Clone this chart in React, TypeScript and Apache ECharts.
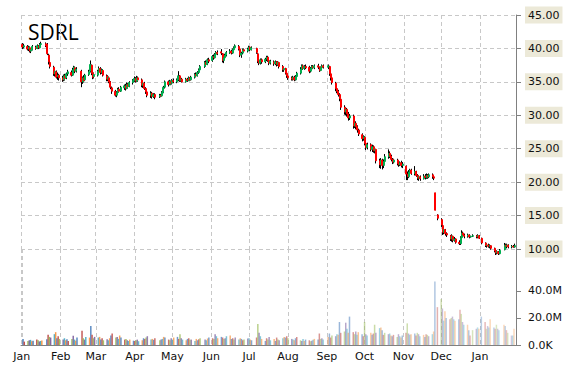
import React, { useEffect, useRef } from 'react';
import * as echarts from 'echarts';

const tickerName = 'SDRL';
const monthNames = ['Jan', 'Feb', 'Mar', 'Apr', 'May', 'Jun', 'Jul', 'Aug', 'Sep', 'Oct', 'Nov', 'Dec'];
const marketHolidays = ['2014-01-01', '2014-01-20', '2014-02-17', '2014-04-18', '2014-05-26', '2014-07-04', '2014-09-01', '2014-11-27', '2014-12-25', '2015-01-01', '2015-01-19'];
const firstDay = [2014, 0, 2];
const lastDay = [2015, 0, 28];
const priceTicks = { min: 10, max: 45, interval: 5 };
const volumeTicks = [0, 20, 40];
const volumeColors = ['#4F81BD', '#C0504D', '#9BBB59', '#8064A2', '#4BACC6', '#F79646'];

// [open, close, low, high]
const ohlcJan14 = [
  [40.6, 40.2, 39.9, 40.8], [40.2, 40.4, 40.0, 40.7], [40.3, 39.9, 39.7, 40.5], [39.9, 40.2, 39.6, 40.4], [40.1, 39.6, 39.4, 40.3],
  [39.6, 39.8, 39.3, 40.0], [39.8, 40.3, 39.7, 40.5], [40.2, 40.0, 39.8, 40.4], [40.0, 40.4, 39.9, 40.6], [40.4, 40.1, 39.9, 40.5],
  [40.1, 40.6, 40.0, 40.8], [40.6, 40.7, 40.3, 41.0], [40.7, 40.4, 40.2, 40.9], [40.6, 39.2, 39.0, 40.8], [39.0, 38.0, 37.6, 39.2],
  [37.9, 37.3, 37.0, 38.2], [37.2, 36.2, 35.9, 37.4], [36.2, 36.6, 35.8, 36.9], [36.5, 35.7, 35.5, 36.7], [35.8, 36.0, 35.3, 36.4],
  [36.0, 35.6, 35.2, 36.2],
];
const ohlcFeb14 = [
  [35.6, 35.3, 35.0, 35.9], [35.3, 35.9, 35.1, 36.1], [35.9, 35.5, 35.2, 36.2], [35.6, 36.2, 35.4, 36.4], [36.2, 36.5, 35.9, 36.8],
  [36.4, 36.0, 35.8, 36.7], [36.0, 36.8, 35.9, 37.1], [36.8, 37.2, 36.5, 37.4], [37.1, 36.6, 36.3, 37.3], [36.6, 36.9, 36.4, 37.2],
  [36.6, 35.0, 34.2, 36.8], [35.0, 35.6, 34.7, 35.8], [35.6, 35.2, 34.9, 36.0], [35.3, 36.0, 35.1, 36.2], [36.1, 36.5, 35.9, 36.8],
  [36.6, 37.6, 36.4, 38.2], [37.5, 36.3, 36.0, 37.6], [36.3, 35.7, 35.4, 36.5], [35.8, 36.1, 35.5, 36.4],
];
const ohlcMar14 = [
  [36.0, 36.6, 35.8, 36.8], [36.7, 37.0, 36.3, 37.3], [37.0, 36.4, 36.1, 37.2], [36.4, 36.8, 36.2, 37.0], [36.7, 36.0, 35.8, 36.9],
  [35.9, 35.4, 35.1, 36.1], [35.4, 35.7, 35.1, 36.0], [35.6, 35.0, 34.8, 35.8], [35.0, 34.2, 33.9, 35.1], [34.1, 33.6, 33.2, 34.3],
  [33.6, 33.0, 32.8, 33.8], [33.0, 33.4, 32.7, 33.6], [33.4, 33.9, 33.2, 34.1], [33.9, 33.6, 33.4, 34.2], [33.6, 34.2, 33.5, 34.4],
  [34.1, 34.4, 33.8, 34.6], [34.4, 34.0, 33.7, 34.7], [34.0, 34.6, 33.9, 34.9], [34.6, 34.3, 34.0, 34.8], [34.3, 34.9, 34.2, 35.1],
  [34.9, 35.2, 34.6, 35.4],
];
const ohlcApr14 = [
  [35.2, 35.5, 35.0, 35.8], [35.5, 35.1, 34.9, 35.7], [35.1, 35.6, 35.0, 35.9], [35.6, 35.3, 35.0, 35.8], [35.3, 34.5, 34.2, 35.5],
  [34.5, 34.8, 34.1, 35.0], [34.8, 34.0, 33.8, 35.0], [34.0, 33.5, 33.2, 34.2], [33.5, 33.0, 32.7, 33.7], [33.0, 33.3, 32.6, 33.6],
  [33.3, 32.8, 32.5, 33.5], [32.8, 33.1, 32.6, 33.3], [33.1, 32.7, 32.4, 33.3], [32.8, 33.0, 32.6, 33.2], [33.0, 32.9, 32.7, 33.2],
  [32.9, 33.4, 32.8, 33.6], [33.4, 34.2, 33.3, 34.4], [34.2, 35.0, 34.0, 35.2], [35.0, 34.6, 34.3, 35.2], [34.6, 35.1, 34.5, 35.3],
  [35.0, 34.8, 34.5, 35.2],
];
const ohlcMay14 = [
  [34.8, 35.2, 34.6, 35.4], [35.2, 35.0, 34.8, 35.5], [35.0, 35.3, 34.8, 35.5], [35.3, 35.9, 35.1, 36.6], [35.9, 35.2, 35.0, 36.0],
  [35.2, 35.4, 35.0, 35.6], [35.4, 35.0, 34.9, 35.6], [35.0, 35.4, 34.9, 35.6], [35.4, 35.2, 35.0, 35.6], [35.2, 35.6, 35.1, 35.8],
  [35.6, 35.3, 35.1, 35.7], [35.3, 35.7, 35.2, 35.9], [35.7, 36.1, 35.5, 36.3], [36.1, 35.9, 35.7, 36.4], [35.9, 36.4, 35.8, 36.6],
  [36.4, 36.8, 36.2, 37.0], [36.8, 37.3, 36.6, 37.5], [37.3, 37.9, 37.1, 38.1], [37.9, 37.6, 37.3, 38.2], [37.6, 38.3, 37.5, 38.5],
  [38.3, 38.1, 37.8, 38.6],
];
const ohlcJun14 = [
  [38.2, 38.8, 38.0, 39.0], [38.8, 38.6, 38.3, 39.1], [38.6, 39.1, 38.5, 39.3], [39.1, 39.4, 38.9, 39.6], [39.4, 39.2, 39.0, 39.7],
  [39.5, 39.3, 39.0, 39.9], [39.2, 38.2, 37.9, 39.3], [38.2, 38.6, 37.8, 38.8], [38.6, 39.0, 38.4, 39.2], [39.0, 39.4, 38.8, 39.6],
  [39.4, 39.6, 39.2, 39.9], [39.6, 39.3, 39.1, 39.8], [39.3, 39.8, 39.2, 40.0], [39.8, 40.1, 39.6, 40.3], [40.1, 40.4, 39.9, 40.6],
  [40.3, 39.9, 39.7, 40.5], [39.9, 39.0, 38.7, 40.0], [39.0, 39.3, 38.6, 39.5], [39.3, 39.8, 39.1, 40.0], [39.8, 39.6, 39.4, 40.0],
  [39.6, 39.9, 39.4, 40.1],
];
const ohlcJul14 = [
  [39.9, 40.2, 39.7, 40.4], [40.2, 39.8, 39.6, 40.3], [39.8, 40.1, 39.7, 40.3], [40.0, 39.4, 39.2, 40.1], [39.2, 38.1, 37.8, 39.3],
  [38.1, 37.8, 37.5, 38.4], [37.8, 38.3, 37.6, 38.5], [38.3, 38.0, 37.7, 38.5], [38.0, 38.4, 37.8, 38.6], [38.4, 38.7, 38.1, 38.9],
  [38.7, 38.2, 38.0, 38.9], [38.2, 37.8, 37.5, 38.4], [37.8, 38.1, 37.6, 38.3], [38.0, 37.7, 37.4, 38.2], [37.7, 38.0, 37.5, 38.2],
  [38.0, 37.6, 37.3, 38.1], [37.6, 37.9, 37.4, 38.1], [37.9, 37.3, 37.0, 38.0], [37.3, 36.8, 36.5, 37.5], [36.8, 37.0, 36.5, 37.2],
  [37.0, 36.3, 36.1, 37.1], [36.3, 35.9, 35.6, 36.5],
];
const ohlcAug14 = [
  [35.9, 35.6, 35.3, 36.1], [35.6, 35.4, 35.2, 35.8], [35.4, 35.7, 35.2, 35.9], [35.7, 35.3, 35.1, 35.9], [35.3, 35.8, 35.2, 36.0],
  [35.8, 36.3, 35.6, 36.5], [36.3, 36.9, 36.1, 37.2], [36.9, 37.4, 36.7, 37.6], [37.4, 37.0, 36.8, 37.6], [37.0, 37.3, 36.8, 37.5],
  [37.3, 37.1, 36.9, 37.6], [37.2, 36.6, 36.3, 37.4], [36.6, 37.0, 36.4, 37.2], [37.0, 37.3, 36.8, 37.5], [37.3, 37.1, 36.9, 37.5],
  [37.1, 37.4, 36.9, 37.6], [37.4, 37.2, 36.9, 37.7], [37.2, 36.7, 36.5, 37.3], [36.7, 37.1, 36.6, 37.3], [37.1, 37.4, 36.9, 37.6],
  [37.4, 37.2, 37.0, 37.6],
];
const ohlcSep14 = [
  [37.2, 37.4, 36.9, 37.6], [37.3, 36.2, 35.9, 37.4], [36.2, 35.6, 35.2, 36.4], [35.6, 34.9, 34.6, 35.8], [34.8, 34.0, 33.6, 35.0],
  [34.0, 33.6, 33.3, 34.3], [33.6, 33.1, 32.8, 33.8], [33.1, 32.5, 32.1, 33.3], [32.4, 31.2, 30.8, 32.5], [31.2, 30.5, 30.1, 31.5],
  [30.5, 30.9, 30.0, 31.2], [30.9, 30.2, 29.8, 31.1], [30.2, 29.6, 29.2, 30.5], [29.6, 29.9, 29.3, 30.2], [29.9, 28.4, 28.0, 30.1],
  [28.4, 28.8, 28.1, 29.0], [28.8, 28.3, 27.9, 29.1], [28.3, 27.8, 27.4, 28.5], [27.8, 27.2, 26.9, 28.0], [27.1, 26.5, 26.1, 27.3],
  [26.5, 26.8, 26.2, 27.0],
];
const ohlcOct14 = [
  [26.7, 25.8, 25.5, 26.9], [25.8, 25.2, 24.8, 26.0], [25.2, 25.6, 24.9, 25.9], [25.6, 24.9, 24.6, 25.8], [24.9, 25.3, 24.5, 25.6],
  [25.3, 24.7, 24.4, 25.5], [24.7, 24.9, 24.3, 25.2], [24.9, 23.2, 22.8, 25.0], [23.2, 22.6, 22.1, 23.5], [22.6, 23.3, 22.0, 23.6],
  [23.3, 22.5, 21.9, 23.5], [22.5, 23.1, 22.1, 23.4], [23.1, 23.8, 22.9, 24.2], [23.8, 24.3, 23.5, 24.9], [24.3, 23.9, 23.6, 24.6],
  [23.9, 23.4, 23.1, 24.1], [23.4, 23.0, 22.7, 23.6], [23.0, 23.3, 22.8, 23.5], [23.3, 22.8, 22.5, 23.5], [22.8, 22.6, 22.3, 23.0],
  [22.6, 22.9, 22.4, 23.1], [22.9, 22.5, 22.2, 23.2], [22.5, 22.7, 22.1, 23.0],
];
const ohlcNov14 = [
  [22.4, 21.2, 20.3, 22.5], [21.2, 20.8, 20.3, 21.6], [20.8, 21.5, 20.6, 21.8], [21.5, 21.8, 21.2, 22.0], [21.8, 21.3, 21.1, 22.0],
  [21.3, 21.6, 21.0, 22.4], [21.6, 21.0, 20.8, 21.7], [21.0, 20.6, 20.3, 21.2], [20.6, 20.8, 20.2, 21.0], [20.8, 20.5, 20.2, 21.0],
  [20.5, 20.9, 20.4, 21.2], [20.9, 20.7, 20.4, 21.2], [20.7, 21.0, 20.5, 21.3], [21.0, 20.8, 20.5, 21.2], [20.8, 21.1, 20.6, 21.3],
  [21.1, 20.8, 20.5, 21.3], [20.8, 20.6, 20.3, 21.0], [18.4, 15.8, 15.8, 18.4], [15.1, 14.6, 14.3, 15.2],
];
const ohlcDec14 = [
  [14.4, 13.6, 13.3, 14.6], [13.5, 12.5, 12.1, 13.6], [12.5, 12.9, 12.2, 13.1], [12.9, 12.3, 12.0, 13.0], [12.3, 12.1, 11.8, 12.5],
  [12.0, 11.5, 11.2, 12.1], [11.5, 11.9, 11.1, 12.2], [11.9, 11.3, 11.0, 12.0], [11.3, 11.5, 11.1, 11.8], [11.5, 11.0, 10.8, 11.6],
  [11.0, 10.8, 10.6, 11.3], [10.8, 11.7, 10.6, 11.9], [11.7, 12.4, 11.5, 12.8], [12.4, 12.1, 11.8, 12.6], [12.1, 11.9, 11.6, 12.3],
  [11.9, 12.1, 11.7, 12.3], [12.1, 11.8, 11.6, 12.2], [11.8, 11.9, 11.7, 12.0], [11.9, 12.0, 11.8, 12.2], [12.0, 11.8, 11.6, 12.1],
  [11.8, 12.0, 11.6, 12.2], [12.0, 11.6, 11.5, 12.1],
];
const ohlcJan15 = [
  [11.6, 10.9, 10.7, 11.7], [10.9, 10.5, 10.3, 11.0], [10.5, 10.6, 10.2, 10.8], [10.6, 10.4, 10.2, 10.8], [10.4, 10.5, 10.1, 10.7],
  [10.5, 10.1, 9.9, 10.6], [10.1, 9.7, 9.5, 10.2], [9.7, 9.4, 9.1, 9.8], [9.4, 9.6, 9.2, 9.8], [9.6, 9.3, 9.1, 9.7],
  [9.3, 9.8, 9.2, 10.0], [9.9, 10.6, 9.8, 10.9], [10.6, 10.4, 10.2, 10.8], [10.4, 10.6, 10.1, 10.8], [10.6, 10.3, 10.1, 10.7],
  [10.3, 10.4, 10.1, 10.6], [10.4, 10.3, 10.2, 10.6], [10.3, 10.5, 10.2, 10.8],
];

// volume in millions
const volJan14 = [4.5, 2.5, 3.0, 3.5, 3.8, 2.8, 3.2, 4.0, 3.5, 2.6, 3.0, 3.3, 4.2, 7.5, 6.0, 5.5, 8.0, 9.5, 5.0, 6.5, 4.5];
const volFeb14 = [4.0, 5.0, 3.5, 4.2, 3.0, 4.5, 6.8, 4.0, 3.2, 5.5, 10.5, 5.0, 4.0, 6.0, 5.5, 14.0, 7.5, 5.0, 6.0];
const volMar14 = [5.5, 6.0, 4.0, 5.0, 3.5, 4.2, 3.5, 5.0, 7.0, 8.5, 5.5, 6.0, 4.5, 7.0, 5.5, 4.0, 4.5, 3.5, 3.0, 4.0, 3.2];
const volApr14 = [3.0, 3.5, 4.0, 2.8, 3.5, 5.0, 4.5, 5.5, 6.5, 4.0, 4.5, 3.8, 5.0, 3.5, 4.0, 4.5, 6.0, 5.5, 4.0, 3.5, 5.0];
const volMay14 = [4.0, 5.5, 6.0, 4.5, 8.0, 5.0, 4.0, 3.5, 4.5, 5.0, 3.8, 4.0, 3.0, 4.5, 3.5, 4.2, 5.0, 4.0, 3.5, 4.8, 5.5];
const volJun14 = [5.0, 4.5, 8.0, 6.5, 5.0, 6.0, 5.5, 4.5, 5.0, 6.5, 7.0, 4.5, 5.0, 4.0, 5.5, 4.0, 5.0, 4.5, 3.5, 4.0, 4.8];
const volJul14 = [5.0, 4.0, 3.5, 5.5, 15.5, 9.0, 6.5, 4.5, 3.0, 5.0, 4.0, 6.0, 3.5, 4.5, 3.0, 5.5, 4.0, 3.5, 5.0, 6.0, 5.5, 6.5];
const volAug14 = [5.0, 4.5, 4.0, 3.5, 5.0, 6.0, 3.5, 3.0, 4.5, 3.0, 4.0, 3.5, 2.8, 3.2, 3.8, 4.5, 4.0, 8.5, 4.5, 5.0, 4.0];
const volSep14 = [6.0, 8.5, 5.5, 7.0, 6.5, 8.0, 7.5, 17.0, 9.0, 10.0, 16.5, 12.0, 9.0, 21.0, 9.5, 8.0, 10.0, 7.5, 9.5, 8.0, 6.5];
const volOct14 = [17.0, 8.0, 7.0, 9.0, 7.5, 8.5, 15.0, 9.0, 12.5, 13.0, 11.0, 7.5, 9.0, 8.0, 8.5, 7.0, 6.5, 7.5, 6.0, 8.0, 6.5, 5.5, 7.0];
const volNov14 = [9.0, 16.0, 8.5, 7.5, 8.0, 8.5, 7.0, 9.0, 8.0, 6.5, 7.5, 6.0, 8.0, 7.5, 6.5, 8.0, 10.0, 47.0, 28.0];
const volDec14 = [34.0, 27.0, 18.0, 25.0, 20.0, 19.0, 20.0, 21.0, 19.0, 18.0, 19.0, 26.0, 23.0, 17.0, 15.0, 15.0, 11.0, 7.0, 11.0, 12.0, 13.0, 12.0];
const volJan15 = [21.0, 17.0, 12.0, 14.0, 13.0, 19.0, 13.0, 12.0, 15.0, 12.0, 11.0, 15.0, 14.0, 11.0, 9.0, 7.0, 7.0, 12.0];

const allOhlc = [
  ...ohlcJan14, ...ohlcFeb14, ...ohlcMar14, ...ohlcApr14, ...ohlcMay14, ...ohlcJun14, ...ohlcJul14,
  ...ohlcAug14, ...ohlcSep14, ...ohlcOct14, ...ohlcNov14, ...ohlcDec14, ...ohlcJan15,
];
const allVol = [
  ...volJan14, ...volFeb14, ...volMar14, ...volApr14, ...volMay14, ...volJun14, ...volJul14,
  ...volAug14, ...volSep14, ...volOct14, ...volNov14, ...volDec14, ...volJan15,
];

function pad(n: number) {
  return n < 10 ? '0' + n : '' + n;
}

function tradingDays(): number[] {
  const out: number[] = [];
  const d = new Date(firstDay[0], firstDay[1], firstDay[2]);
  const end = new Date(lastDay[0], lastDay[1], lastDay[2]).getTime();
  while (d.getTime() <= end) {
    const wd = d.getDay();
    const key = d.getFullYear() + '-' + pad(d.getMonth() + 1) + '-' + pad(d.getDate());
    if (wd !== 0 && wd !== 6 && marketHolidays.indexOf(key) < 0) out.push(d.getTime());
    d.setDate(d.getDate() + 1);
  }
  return out;
}

export default function App() {
  const ref = useRef<HTMLDivElement>(null);
  useEffect(() => {
    const chart = echarts.init(ref.current!, null, { renderer: 'svg' });
    const days = tradingDays();
    const n = Math.min(days.length, allOhlc.length, allVol.length);
    const wickData: any[] = [];
    const bodyData: any[] = [];
    const volData: any[] = [];
    for (let i = 0; i < n; i++) {
      const [o, c, l, h] = allOhlc[i];
      wickData.push([days[i], o, c, l, h]);
      bodyData.push([days[i], o, c, Math.min(o, c), Math.max(o, c)]);
      volData.push({
        value: [days[i], allVol[i]],
        itemStyle: { color: volumeColors[i % volumeColors.length], opacity: 1 - 0.65 * (i / (n - 1)) },
      });
    }
    const xMin = new Date(2014, 0, 1).getTime();
    const xMax = new Date(2015, 0, 29).getTime();
    const dayMs = 86400000;
    const grid = '#c8c8c8';
    const axisGray = '#808080';
    const labelFont = { fontFamily: 'DejaVu Sans', fontSize: 11, color: '#111' };

    chart.setOption({
      animation: false,
      backgroundColor: '#fff',
      grid: [
        { left: 21, right: 54, top: 15, bottom: 121 },
        { left: 21, right: 54, top: 249, bottom: 25 },
      ],
      graphic: [
        {
          type: 'text',
          left: 28,
          top: 21,
          style: { text: tickerName, font: '21px "Open Sans"', fill: '#000' },
        },
      ],
      xAxis: [
        {
          gridIndex: 0,
          type: 'time',
          min: xMin,
          max: xMax,
          minInterval: 28 * dayMs,
          maxInterval: 31 * dayMs,
          axisLine: { show: false },
          axisTick: { show: false },
          axisLabel: { show: false },
          splitLine: { show: true, lineStyle: { color: grid, type: [4, 3], width: 1 } },
        },
        {
          gridIndex: 1,
          type: 'time',
          min: xMin,
          max: xMax,
          minInterval: 28 * dayMs,
          maxInterval: 31 * dayMs,
          axisLine: { show: true, lineStyle: { color: axisGray, width: 1 } },
          axisTick: { show: false },
          axisLabel: {
            ...labelFont,
            margin: 6,
            hideOverlap: false,
            formatter: (v: number) => {
              const d = new Date(v);
              return d.getDate() === 1 ? monthNames[d.getMonth()] : '';
            },
          },
          splitLine: { show: true, lineStyle: { color: grid, type: [4, 3], width: 1 } },
        },
      ],
      yAxis: [
        {
          gridIndex: 0,
          type: 'value',
          position: 'right',
          min: priceTicks.min,
          max: priceTicks.max,
          interval: priceTicks.interval,
          axisLine: { show: true, lineStyle: { color: axisGray, width: 1 } },
          axisTick: { show: true, length: 5, lineStyle: { color: axisGray } },
          axisLabel: {
            ...labelFont,
            margin: 9,
            backgroundColor: '#ECE9D8',
            padding: [3, 3, 3, 3],
            formatter: (v: number) => v.toFixed(2),
          },
          splitLine: { show: true, lineStyle: { color: grid, type: [4, 3], width: 1 } },
        },
        {
          gridIndex: 1,
          type: 'value',
          position: 'right',
          min: 0,
          max: 71,
          axisLine: { show: true, lineStyle: { color: axisGray, width: 1 } },
          axisTick: { show: true, length: 5, lineStyle: { color: axisGray }, customValues: volumeTicks },
          axisLabel: {
            ...labelFont,
            margin: 12,
            customValues: volumeTicks,
            formatter: (v: number) => (v === 0 ? '0.0K' : v > 45 ? '' : v.toFixed(1) + 'M'),
          },
          splitLine: { show: false },
        },
      ],
      series: [
        {
          type: 'bar',
          xAxisIndex: 1,
          yAxisIndex: 1,
          barWidth: 1.5,
          data: volData,
        },
        {
          type: 'candlestick',
          xAxisIndex: 0,
          yAxisIndex: 0,
          clip: false,
          barWidth: 1,
          itemStyle: { color: '#000', color0: '#000', borderColor: '#000', borderColor0: '#000', borderWidth: 1 },
          data: wickData,
        },
        {
          type: 'candlestick',
          xAxisIndex: 0,
          yAxisIndex: 0,
          clip: false,
          barWidth: 1.5,
          itemStyle: { color: '#00B050', color0: '#FF0000', borderColor: '#00B050', borderColor0: '#FF0000', borderWidth: 1 },
          data: bodyData,
        },
      ],
    });
    return () => chart.dispose();
  }, []);
  return <div ref={ref} style={{ position: 'absolute', left: 0, top: 0, width: 570, height: 370 }} />;
}
